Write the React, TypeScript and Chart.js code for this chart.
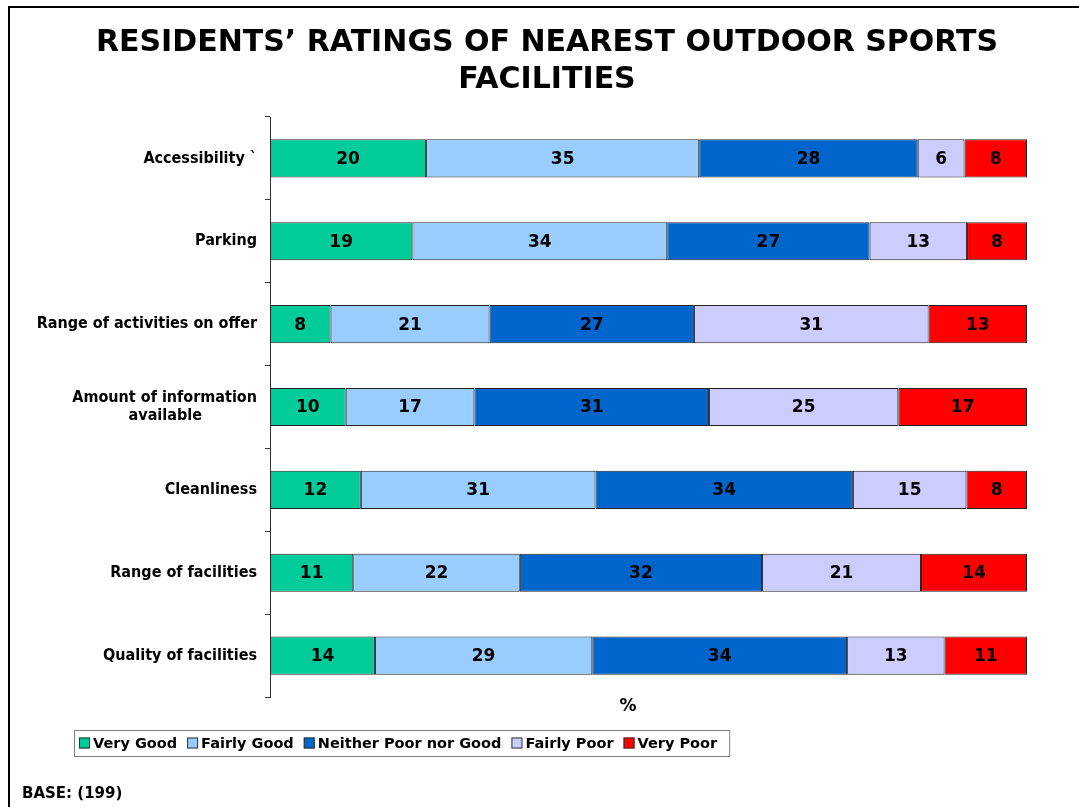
import React, { useEffect, useRef } from 'react';
import { Chart, registerables } from 'chart.js';

Chart.register(...registerables);

const titleLines = ['RESIDENTS\u2019 RATINGS OF NEAREST OUTDOOR SPORTS', 'FACILITIES'];
const categories: (string | string[])[] = [
  'Accessibility `',
  'Parking',
  'Range of activities on offer',
  ['Amount of information', 'available'],
  'Cleanliness',
  'Range of facilities',
  'Quality of facilities',
];
const seriesNames = ['Very Good', 'Fairly Good', 'Neither Poor nor Good', 'Fairly Poor', 'Very Poor'];
const veryGood = [20, 19, 8, 10, 12, 11, 14];
const fairlyGood = [35, 34, 21, 17, 31, 22, 29];
const neitherPoorNorGood = [28, 27, 27, 31, 34, 32, 34];
const fairlyPoor = [6, 13, 31, 25, 15, 21, 13];
const veryPoor = [8, 8, 13, 17, 8, 14, 11];
const seriesColors = ['#00CC99', '#99CCFF', '#0066CC', '#CCCCFF', '#FF0000'];
const axisTitle = '%';
const baseNote = 'BASE: (199)';

const series = [veryGood, fairlyGood, neitherPoorNorGood, fairlyPoor, veryPoor];
const FONT = '"DejaVu Sans", Verdana, sans-serif';
const TICK_FONT = '"DejaVu Sans Condensed", "DejaVu Sans", sans-serif';
const TICK_SIZE = 16;

function centerLines(lines: string[]): string[] {
  const c = document.createElement('canvas').getContext('2d')!;
  c.font = `bold ${TICK_SIZE}px ${TICK_FONT}`;
  const widths = lines.map((l) => c.measureText(l).width);
  const max = Math.max(...widths);
  const sp = c.measureText('\u00A0').width || 4;
  return lines.map((l, i) => l + '\u00A0'.repeat(Math.round((max - widths[i]) / 2 / sp)));
}

const valueLabels = {
  id: 'valueLabels',
  afterDatasetsDraw(chart: any) {
    const ctx = chart.ctx;
    ctx.save();
    ctx.font = `bold 17px ${FONT}`;
    ctx.fillStyle = '#000';
    ctx.textAlign = 'center';
    ctx.textBaseline = 'middle';
    chart.data.datasets.forEach((ds: any, di: number) => {
      const meta = chart.getDatasetMeta(di);
      meta.data.forEach((el: any, i: number) => {
        const p = el.getCenterPoint();
        ctx.fillText(String(ds.raw[i]), p.x, p.y + 1);
      });
    });
    ctx.restore();
  },
};

const boxLegend = {
  id: 'boxLegend',
  afterDraw(chart: any) {
    const ctx = chart.ctx;
    const x0 = 74;
    const y0 = 730;
    const h = 26;
    const box = 11;
    const gap = 10;
    ctx.save();
    ctx.font = `bold 14.5px ${FONT}`;
    ctx.textBaseline = 'middle';
    ctx.textAlign = 'left';
    const items = chart.data.datasets.map((ds: any) => ({ text: ds.label, color: ds.backgroundColor }));
    let total = 5;
    items.forEach((it: any, i: number) => {
      total += box + 3 + ctx.measureText(it.text).width + (i < items.length - 1 ? gap : 12);
    });
    ctx.strokeStyle = '#808080';
    ctx.lineWidth = 1;
    ctx.fillStyle = '#fff';
    ctx.fillRect(x0, y0, total, h);
    ctx.strokeRect(x0 + 0.5, y0 + 0.5, total, h);
    let x = x0 + 5;
    const cy = y0 + h / 2;
    items.forEach((it: any) => {
      ctx.fillStyle = it.color;
      ctx.fillRect(x, cy - box / 2, box, box);
      ctx.strokeStyle = '#333';
      ctx.strokeRect(x + 0.5, cy - box / 2 + 0.5, box - 1, box - 1);
      x += box + 3;
      ctx.fillStyle = '#000';
      ctx.fillText(it.text, x, cy + 1);
      x += ctx.measureText(it.text).width + gap;
    });
    ctx.restore();
  },
};

export default function App() {
  const ref = useRef<HTMLCanvasElement | null>(null);

  useEffect(() => {
    document.body.style.margin = '0';
    const canvas = ref.current!;
    const rowTotals = categories.map((_, i) => series.reduce((s, arr) => s + arr[i], 0));
    const chart = new Chart(canvas, {
      type: 'bar',
      data: {
        labels: categories as any,
        datasets: series.map((arr, si) => ({
          label: seriesNames[si],
          data: arr.map((v, i) => (v / rowTotals[i]) * 100),
          raw: arr,
          backgroundColor: seriesColors[si],
          borderColor: '#222',
          borderWidth: 1,
          borderSkipped: false,
          barPercentage: 0.46,
          categoryPercentage: 1,
        })) as any,
      },
      options: {
        indexAxis: 'y',
        animation: false,
        responsive: false,
        devicePixelRatio: 1,
        layout: { padding: { left: 15, right: 0, top: 0, bottom: 110 } },
        plugins: {
          legend: { display: false },
          tooltip: { enabled: false },
          title: {
            display: true,
            text: titleLines,
            color: '#000',
            font: { family: FONT, size: 30, weight: 'bold', lineHeight: 37 / 30 },
            padding: { top: 25, bottom: 18 },
          },
        },
        scales: {
          x: {
            display: false,
            stacked: true,
            min: 0,
            max: 100,
          },
          y: {
            stacked: true,
            position: 'left',
            afterFit: (scale: any) => {
              scale.width = 255;
            },
            grid: {
              display: true,
              drawOnChartArea: false,
              drawTicks: true,
              tickLength: 5,
              color: '#333',
              offset: true,
            },
            border: { display: true, color: '#333', width: 1 },
            ticks: {
              color: '#000',
              padding: 8,
              font: { family: TICK_FONT, size: TICK_SIZE, weight: 'bold', lineHeight: 18 / TICK_SIZE },
              callback: (_v: any, index: number) => {
                const lab = categories[index];
                return Array.isArray(lab) ? centerLines(lab) : lab;
              },
            },
          },
          yRight: {
            type: 'category',
            axis: 'y',
            position: 'right',
            display: true,
            grid: { display: false, drawTicks: false },
            border: { display: false },
            ticks: { display: false },
            afterFit: (scale: any) => {
              scale.width = 52;
            },
          },
        },
      } as any,
      plugins: [valueLabels, boxLegend],
    });
    return () => chart.destroy();
  }, []);

  return (
    <div style={{ position: 'absolute', left: 0, top: 0, width: 1079, height: 807, overflow: 'hidden', background: '#fff' }}>
      <canvas ref={ref} width={1079} height={807} style={{ position: 'absolute', left: 0, top: 0, width: 1079, height: 807 }} />
      <div
        style={{
          position: 'absolute',
          left: 8,
          top: 6,
          width: 1079,
          height: 807,
          borderTop: '2px solid #000',
          borderLeft: '2px solid #000',
          pointerEvents: 'none',
        }}
      />
      <div
        style={{
          position: 'absolute',
          left: 628,
          top: 705,
          transform: 'translate(-50%, -50%)',
          font: `bold 17px ${FONT}`,
          color: '#000',
        }}
      >
        {axisTitle}
      </div>
      <div
        style={{
          position: 'absolute',
          left: 22,
          top: 793,
          transform: 'translateY(-50%)',
          font: `bold 15px ${FONT}`,
          color: '#000',
        }}
      >
        {baseNote}
      </div>
    </div>
  );
}
